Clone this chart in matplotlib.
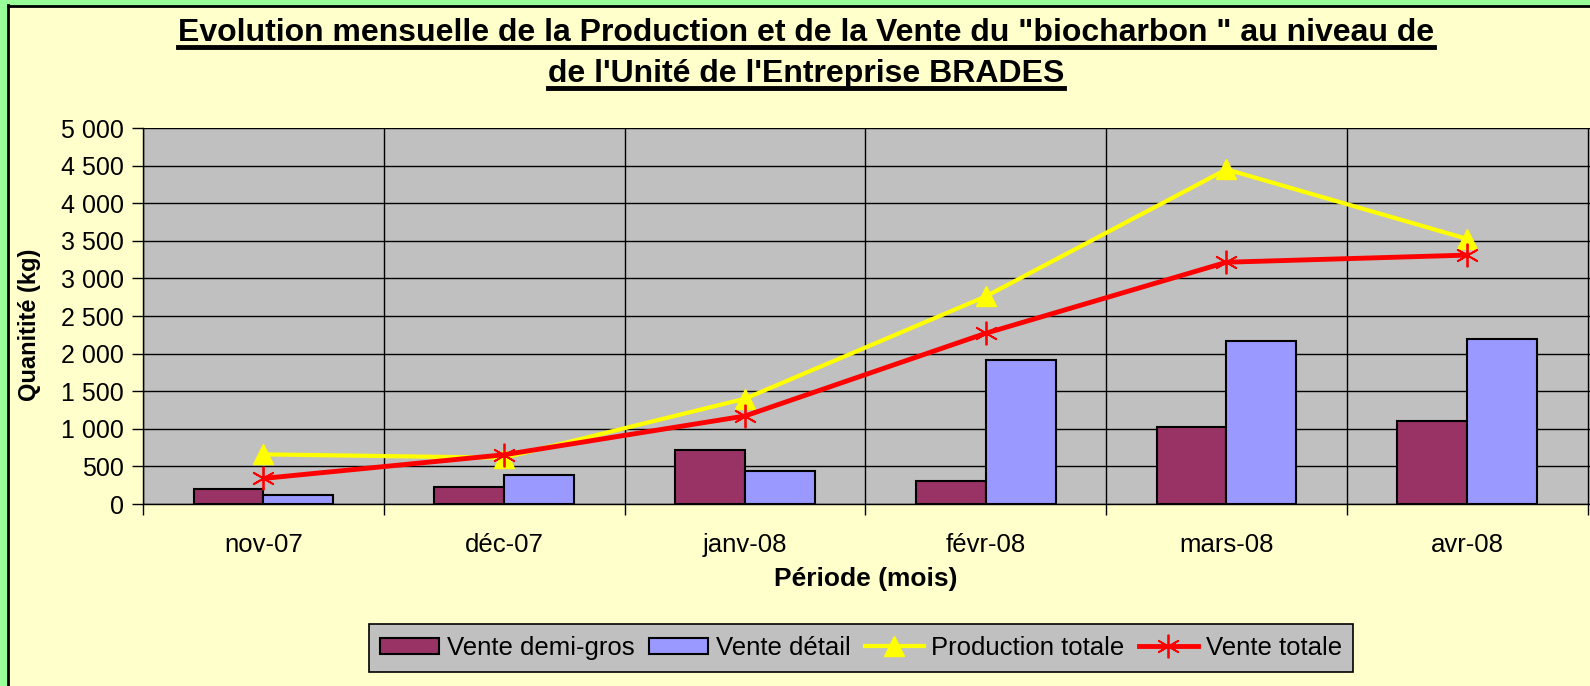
import matplotlib.pyplot as plt
import numpy as np
from matplotlib.lines import Line2D
from matplotlib.patches import Rectangle

plt.rcParams["font.family"] = ["Liberation Sans", "DejaVu Sans"]

# data (kg)
mois = ["nov-07", "déc-07", "janv-08", "févr-08", "mars-08", "avr-08"]
vente_demi_gros = [205, 230, 714, 310, 1030, 1108]
vente_detail = [125, 390, 444, 1915, 2172, 2200]
production_totale = [660, 615, 1400, 2760, 4450, 3525]
vente_totale = [340, 655, 1170, 2270, 3215, 3310]

title_lines = [
    "Evolution mensuelle de la Production et de la Vente du \"biocharbon \" au niveau de",
    "de l'Unité de l'Entreprise BRADES",
]

W, H = 1590, 686
fig = plt.figure(figsize=(W / 100, H / 100), dpi=100, facecolor="#FFFFCC")

# outer frame: green strip + black line on left and top (chart is cropped right/bottom)
fig.patches.append(Rectangle((0, 0), 7 / W, 1, transform=fig.transFigure, color="#99FF99", zorder=0))
fig.patches.append(Rectangle((0, 1 - 5 / H), 1, 5 / H, transform=fig.transFigure, color="#99FF99", zorder=0))
fig.lines.append(Line2D([8 / W, 8 / W], [0, 1 - 5 / H], transform=fig.transFigure, color="black", lw=2))
fig.lines.append(Line2D([8 / W, 1], [1 - 6 / H, 1 - 6 / H], transform=fig.transFigure, color="black", lw=2))

ax = fig.add_axes([143 / W, 1 - 504 / H, 1 - 143 / W, (504 - 128) / H])
ax.set_facecolor("#C0C0C0")

x = np.arange(len(mois))
bw = 0.29
b1 = ax.bar(x - bw / 2, vente_demi_gros, bw, color="#993366", edgecolor="black", lw=1.5,
            label="Vente demi-gros", zorder=3)
b2 = ax.bar(x + bw / 2, vente_detail, bw, color="#9999FF", edgecolor="black", lw=1.5,
            label="Vente détail", zorder=3)
l1, = ax.plot(x, production_totale, color="#FFFF00", lw=3, marker="^", markersize=15,
              label="Production totale", zorder=4)
l2, = ax.plot(x, vente_totale, color="#FF0000", lw=3.5, marker=(6, 2, 0), markersize=17,
              markeredgewidth=1.3, label="Vente totale", zorder=5)

ax.set_xlim(-0.5, 5.51)
ax.set_ylim(0, 5000)
yt = np.arange(0, 5001, 500)
ax.set_yticks(yt)
ax.set_yticklabels([f"{v:,}".replace(",", " ") for v in yt], fontsize=18)
ax.set_xticks(x)
ax.set_xticklabels(mois, fontsize=18.5)
ax.set_xticks(np.arange(-0.5, 6, 1), minor=True)
ax.tick_params(axis="x", which="major", length=0, pad=21)
ax.tick_params(axis="x", which="minor", length=8, width=1, direction="out")
ax.tick_params(axis="y", length=8, width=1, direction="out", pad=6)
ax.grid(axis="y", color="black", lw=1, zorder=1)
ax.grid(axis="x", which="minor", color="black", lw=1, zorder=1)
ax.set_axisbelow(True)
for side in ["top", "right"]:
    ax.spines[side].set_visible(False)
for side in ["left", "bottom"]:
    ax.spines[side].set_color("black")
    ax.spines[side].set_linewidth(1)

fig.text(30 / W, 1 - 325 / H, "Quanitité (kg)", rotation=90, ha="center", va="center",
         fontsize=17, fontweight="bold")
fig.text(866 / W, 1 - 579 / H, "Période (mois)", ha="center", va="center",
         fontsize=19, fontweight="bold")

title_y = [33, 74]
titles = []
for line, yy in zip(title_lines, title_y):
    titles.append(fig.text(806 / W, 1 - yy / H, line, ha="center", va="center",
                           fontsize=23, fontweight="bold"))

leg = fig.legend([b1, b2, l1, l2], ["Vente demi-gros", "Vente détail", "Production totale", "Vente totale"],
                 loc="center", bbox_to_anchor=(861 / W, 1 - 648 / H), ncol=4,
                 fontsize=18.5, frameon=True, fancybox=False, edgecolor="black",
                 facecolor="#C0C0C0", framealpha=1, handlelength=2.3, handleheight=0.6,
                 columnspacing=0.55, handletextpad=0.3, borderpad=0.45)
leg.get_frame().set_linewidth(1.2)

# underline the title lines
fig.canvas.draw()
inv = fig.transFigure.inverted()
for t in titles:
    bb = t.get_window_extent()
    (x0, y0), (x1, _) = inv.transform([[bb.x0, bb.y0], [bb.x1, bb.y1]])
    uy = y0 + 1 / H
    fig.lines.append(Line2D([x0, x1], [uy, uy], transform=fig.transFigure, color="black", lw=3.5))

fig.savefig("out.png", dpi=100, facecolor=fig.get_facecolor())
